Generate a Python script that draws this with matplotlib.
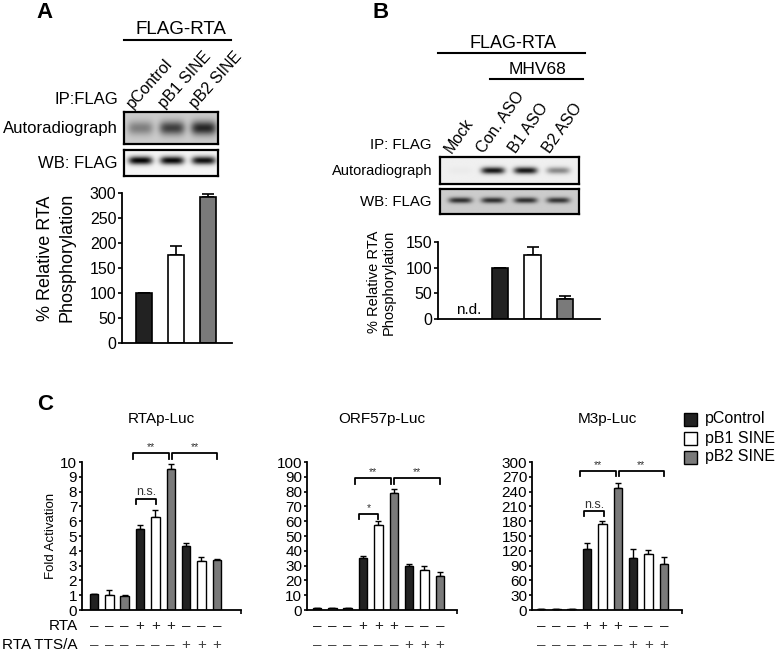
import numpy as np
import matplotlib
matplotlib.use('Agg')
import matplotlib.pyplot as plt
from matplotlib.lines import Line2D
from matplotlib.patches import Rectangle
import matplotlib.transforms as mtrans

# ---------------- data ----------------
a_lanes = ['pControl', 'pB1 SINE', 'pB2 SINE']
a_auto_int = [0.3, 0.55, 0.65]
a_wb_int = [0.95, 0.93, 0.9]
a_vals = [100, 177, 292]
a_err = [0, 18, 6]
a_yticks = [0, 50, 100, 150, 200, 250, 300]

b_lanes = ['Mock', 'Con. ASO', 'B1 ASO', 'B2 ASO']
b_auto_int = [0.02, 0.85, 0.85, 0.4]
b_wb_int = [0.62, 0.62, 0.62, 0.6]
b_vals = [0, 100, 124, 38]
b_err = [0, 0, 16, 7]
b_yticks = [0, 50, 100, 150]

c_titles = ['RTAp-Luc', 'ORF57p-Luc', 'M3p-Luc']
rta_vals = [1.05, 1.0, 0.95, 5.45, 6.3, 9.55, 4.3, 3.3, 3.4]
rta_err = [0, 0.38, 0.05, 0.27, 0.45, 0.33, 0.22, 0.27, 0.04]
orf_vals = [1.5, 1.5, 1.5, 34.8, 57.3, 79, 29.8, 27.2, 23.1]
orf_err = [0, 0, 0, 1.8, 2.9, 2.7, 1.6, 2.2, 2.7]
m3_vals = [2.5, 2.5, 2.5, 123, 174, 248, 106, 113, 94]
m3_err = [0, 0, 0, 13.5, 6, 9.5, 18, 8, 13.5]
rta_yticks = list(range(0, 11))
orf_yticks = list(range(0, 101, 10))
m3_yticks = list(range(0, 301, 30))
rta_signs = ['–', '–', '–', '+', '+', '+', '–', '–', '–']
tts_signs = ['–', '–', '–', '–', '–', '–', '+', '+', '+']
legend_labels = ['pControl', 'pB1 SINE', 'pB2 SINE']
# significance brackets: (x start, x end, height, drop, label)
rta_brackets = [(2.57, 4.89, 10.6, 0.4, '**'), (5.07, 8.04, 10.6, 0.4, '**'),
                (2.74, 4.04, 7.5, 0.35, 'n.s.')]
orf_brackets = [(2.5, 4.83, 89, 3.6, '**'), (5.04, 8.0, 89, 3.6, '**'),
                (2.72, 3.98, 65, 3.2, '*')]
m3_brackets = [(2.57, 4.9, 282, 11, '**'), (5.08, 8.0, 282, 11, '**'),
               (2.81, 4.09, 200, 10, 'n.s.')]

# ---------------- styling ----------------
fill_colors = ['#222222', '#ffffff', '#7a7a7a']
W, H = 780, 651
plt.rcParams['font.family'] = ['Liberation Sans', 'DejaVu Sans']
fig = plt.figure(figsize=(7.8, 6.51), dpi=100)


def axpx(x0, y0, x1, y1):
    return fig.add_axes([x0 / W, 1 - y1 / H, (x1 - x0) / W, (y1 - y0) / H])


def ftext(x, y, s, **kw):
    return fig.text(x / W, 1 - y / H, s, **kw)


def fline(x0, x1, y, lw=1.5):
    fig.add_artist(Line2D([x0 / W, x1 / W], [1 - y / H, 1 - y / H], color='k',
                          lw=lw, transform=fig.transFigure))


def blot(rect, intens, left, right, bg, yc, sig, halfw):
    ax = axpx(*rect)
    nx, ny = 400, 60
    xs = np.linspace(left, right, nx)
    ys = np.linspace(0, 1, ny)
    X, Y = np.meshgrid(xs, ys)
    img = np.full(X.shape, bg)
    for i, v in enumerate(intens):
        prof = np.exp(-((X - i) / halfw) ** 4) * np.exp(-((Y - yc) / sig) ** 2)
        img = img + v * prof
    img = np.clip(img, 0, 1)
    ax.imshow(img, cmap='gray_r', vmin=0, vmax=1.0, aspect='auto',
              extent=[left, right, 1, 0], interpolation='bilinear')
    ax.set_xticks([])
    ax.set_yticks([])
    for s in ax.spines.values():
        s.set_linewidth(1.6)
    return ax


def style_axis(ax, fs):
    ax.spines['top'].set_visible(False)
    ax.spines['right'].set_visible(False)
    ax.spines['left'].set_linewidth(1.3)
    ax.spines['bottom'].set_linewidth(1.3)
    ax.tick_params(axis='y', length=3, width=1.2, pad=1, labelsize=fs)


# ================= Panel A =================
ftext(36, 12, 'A', fontsize=16, fontweight='bold', va='center', ha='left')
ftext(181, 29, 'FLAG-RTA', fontsize=13.5, ha='center', va='center')
fline(124, 231, 40)
a_lane_px = [140, 172, 203]
for lx, lab in zip(a_lane_px, a_lanes):
    ftext(lx - 7, 109, lab, fontsize=11.5, rotation=48, rotation_mode='anchor',
          ha='left', va='baseline')
ftext(118, 100, 'IP:FLAG', fontsize=12, ha='right', va='center')
ftext(118, 128, 'Autoradiograph', fontsize=12, ha='right', va='center')
ftext(118, 163, 'WB: FLAG', fontsize=12, ha='right', va='center')
blot((124, 112, 218, 144), a_auto_int, -0.52, 2.48, 0.2, 0.5, 0.22, 0.4)
blot((124, 150, 218, 176), a_wb_int, -0.52, 2.48, 0.04, 0.4, 0.16, 0.38)

axA = axpx(122, 193, 232, 343)
xa = np.arange(len(a_vals))
axA.bar(xa, a_vals, width=0.5, color=fill_colors, edgecolor='k', linewidth=1.2, zorder=2)
axA.errorbar(xa, a_vals, yerr=[np.zeros(len(a_err)), a_err], fmt='none', ecolor='k',
             elinewidth=1.2, capsize=4, capthick=1.2, zorder=1)
axA.set_xlim(-0.69, 2.75)
axA.set_ylim(0, 300)
axA.set_yticks(a_yticks)
axA.set_xticks([])
style_axis(axA, 11.5)
ftext(45, 258, '% Relative RTA', fontsize=13, rotation=90, ha='center', va='center')
ftext(67, 257, 'Phosphorylation', fontsize=13, rotation=90, ha='center', va='center')

# ================= Panel B =================
ftext(372, 12, 'B', fontsize=16, fontweight='bold', va='center', ha='left')
ftext(513, 43, 'FLAG-RTA', fontsize=13, ha='center', va='center')
fline(438, 585, 53)
ftext(538, 70, 'MHV68', fontsize=12.5, ha='center', va='center')
fline(490, 583, 79)
b_lane_px = [460, 492, 524, 558]
for lx, lab in zip(b_lane_px, b_lanes):
    ftext(lx - 8, 154, lab, fontsize=11.5, rotation=55, rotation_mode='anchor',
          ha='left', va='baseline')
ftext(432, 145, 'IP: FLAG', fontsize=10.8, ha='right', va='center')
ftext(432, 171, 'Autoradiograph', fontsize=10.5, ha='right', va='center')
ftext(432, 202, 'WB: FLAG', fontsize=10.8, ha='right', va='center')
blot((440, 157, 579, 184), b_auto_int, -0.62, 3.63, 0.06, 0.5, 0.13, 0.36)
blot((440, 189, 579, 214), b_wb_int, -0.62, 3.63, 0.2, 0.45, 0.12, 0.36)

axB = axpx(438, 242, 600, 319)
xb = np.arange(len(b_vals))
axB.bar(xb[1:], b_vals[1:], width=0.5, color=fill_colors, edgecolor='k',
        linewidth=1.2, zorder=2)
axB.errorbar(xb[1:], b_vals[1:], yerr=[np.zeros(3), b_err[1:]], fmt='none', ecolor='k',
             elinewidth=1.2, capsize=4, capthick=1.2, zorder=1)
axB.text(xb[0], 3, 'n.d.', fontsize=11, ha='center', va='bottom')
axB.set_xlim(-0.94, 4.1)
axB.set_ylim(0, 150)
axB.set_yticks(b_yticks)
axB.set_xticks([])
style_axis(axB, 11.5)
ftext(374, 282, '% Relative RTA', fontsize=10.5, rotation=90, ha='center', va='center')
ftext(389, 282, 'Phosphorylation', fontsize=10.5, rotation=90, ha='center', va='center')

# ================= Panel C =================
ftext(37, 404, 'C', fontsize=16, fontweight='bold', va='center', ha='left')
c_specs = [
    (82, 241, 94, rta_vals, rta_err, rta_yticks, rta_brackets),
    (307, 457, 317, orf_vals, orf_err, orf_yticks, orf_brackets),
    (532, 682, 541, m3_vals, m3_err, m3_yticks, m3_brackets),
]
spacing = 15.35
for k, (x0, x1, b0, vals, errs, yt, brs) in enumerate(c_specs):
    ax = axpx(x0, 462, x1, 610)
    xc = np.arange(len(vals))
    cols = [fill_colors[i % 3] for i in range(len(vals))]
    ax.bar(xc, vals, width=0.55, color=cols, edgecolor='k', linewidth=1.0, zorder=2)
    ax.errorbar(xc, vals, yerr=[np.zeros(len(errs)), errs], fmt='none', ecolor='k',
                elinewidth=1.0, capsize=2.5, capthick=1.0, zorder=1)
    left = (x0 - b0) / spacing
    right = (x1 - b0) / spacing
    ax.set_xlim(left, right)
    ax.set_ylim(yt[0], yt[-1])
    ax.set_yticks(yt)
    ax.set_xticks([right])
    ax.set_xticklabels([])
    ax.tick_params(axis='x', length=3, width=1.2)
    style_axis(ax, 11)
    ax.tick_params(axis='y', length=2.5, pad=1)
    for (xs, xe, hy, dr, lab) in brs:
        ax.plot([xs, xs, xe, xe], [hy - dr, hy, hy, hy - dr], color='k', lw=1.3,
                clip_on=False)
        ax.text((xs + xe) / 2, hy + dr * 0.15, lab, fontsize=7.5 if '*' in lab else 9,
                ha='center', va='bottom', color='#333333')
    ax.set_title(c_titles[k], fontsize=11, pad=0, y=1.0 + (462 - 419) / 148.0,
                 family=['Liberation Sans Narrow', 'Liberation Sans'], va='center')
    tr = mtrans.blended_transform_factory(ax.transData, fig.transFigure)
    for i in range(len(vals)):
        ax.text(i, 1 - 626 / H, rta_signs[i], transform=tr, ha='center', va='center',
                fontsize=11, color='#222222')
        ax.text(i, 1 - 645 / H, tts_signs[i], transform=tr, ha='center', va='center',
                fontsize=11, color='#444444')

ftext(51, 536, 'Fold Activation', fontsize=9.5, rotation=90, ha='center', va='center')
ftext(78, 626, 'RTA', fontsize=11, ha='right', va='center')
ftext(78, 645, 'RTA TTS/A', fontsize=11, ha='right', va='center')

# legend
for j, lab in enumerate(legend_labels):
    yy = 419 + j * 19
    fig.add_artist(Rectangle((684 / W, 1 - (yy + 6.5) / H), 13 / W, 13 / H,
                             facecolor=fill_colors[j], edgecolor='k', lw=1.0,
                             transform=fig.transFigure))
    ftext(705, yy, lab, fontsize=11.5, ha='left', va='center')

fig.savefig('out.png', dpi=100)
